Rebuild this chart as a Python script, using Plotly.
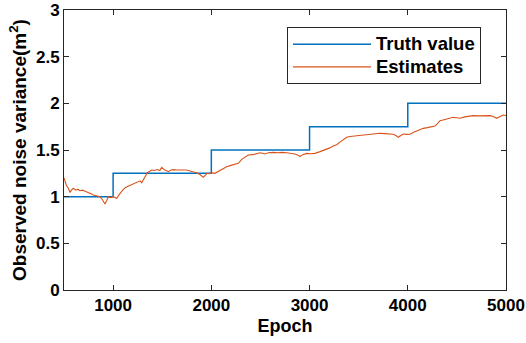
import plotly.graph_objects as go

# Truth value (step function)
truth_epoch = [500, 1000, 2000, 3000, 4000, 5000]
truth_value = [1.0, 1.25, 1.5, 1.75, 2.0, 2.0]

# Estimates
est_epoch = [500, 510, 525, 544, 561, 575, 595, 620, 640, 663, 690, 710, 731, 760, 780, 798, 830, 866, 890, 917,
             935, 951, 975, 1002, 1020, 1036, 1060, 1080, 1104, 1130, 1150, 1172, 1200, 1230, 1257, 1275, 1291,
             1310, 1330, 1348, 1370, 1393, 1420, 1450, 1475, 1495, 1520, 1545, 1562, 1590, 1613, 1650, 1700,
             1749, 1800, 1851, 1880, 1918, 1940, 1953, 1975, 2003, 2037, 2070, 2100, 2130, 2156, 2200, 2240,
             2275, 2309, 2340, 2377, 2420, 2460, 2496, 2520, 2547, 2580, 2631, 2680, 2720, 2767, 2810, 2852,
             2880, 2903, 2930, 2971, 3010, 3055, 3100, 3157, 3200, 3242, 3280, 3310, 3340, 3378, 3412, 3460,
             3514, 3570, 3620, 3680, 3717, 3760, 3800, 3852, 3880, 3903, 3930, 3954, 3990, 4022, 4060, 4100,
             4158, 4200, 4240, 4277, 4300, 4328, 4370, 4420, 4463, 4500, 4531, 4580, 4620, 4667, 4720, 4780,
             4837, 4870, 4905, 4940, 4973, 5000]
est_value = [1.20, 1.17, 1.12, 1.09, 1.045, 1.07, 1.09, 1.07, 1.08, 1.064, 1.07, 1.06, 1.053, 1.04, 1.03, 1.018,
             1.01, 1.0, 0.97, 0.921, 0.96, 1.0, 0.99, 1.0, 0.99, 0.98, 1.02, 1.05, 1.079, 1.10, 1.11, 1.125,
             1.14, 1.15, 1.16, 1.17, 1.15, 1.19, 1.23, 1.257, 1.27, 1.286, 1.28, 1.29, 1.28, 1.314, 1.29, 1.28,
             1.268, 1.285, 1.29, 1.285, 1.285, 1.286, 1.27, 1.257, 1.24, 1.207, 1.23, 1.25, 1.245, 1.257, 1.25,
             1.27, 1.29, 1.30, 1.32, 1.335, 1.345, 1.357, 1.40, 1.42, 1.446, 1.45, 1.46, 1.47, 1.465, 1.457,
             1.47, 1.475, 1.47, 1.475, 1.47, 1.465, 1.457, 1.445, 1.43, 1.45, 1.464, 1.46, 1.464, 1.48, 1.50,
             1.52, 1.543, 1.56, 1.585, 1.61, 1.636, 1.645, 1.65, 1.66, 1.665, 1.672, 1.675, 1.679, 1.675,
             1.672, 1.668, 1.655, 1.636, 1.655, 1.671, 1.667, 1.668, 1.69, 1.71, 1.732, 1.74, 1.75, 1.757,
             1.78, 1.814, 1.825, 1.84, 1.85, 1.845, 1.84, 1.855, 1.862, 1.868, 1.866, 1.87, 1.868, 1.86, 1.84,
             1.86, 1.875, 1.87]

x_ticks = [1000, 2000, 3000, 4000, 5000]
y_ticks = [0, 0.5, 1, 1.5, 2, 2.5, 3]
y_tick_labels = ["0", "0.5", "1", "1.5", "2", "2.5", "3"]
series_names = ["Truth value", "Estimates"]

FONT = "Liberation Sans, Arial, sans-serif"


def legend_label(s):
    return f'<span style="font-size:18.5px"><b>{s}</b></span>'


fig = go.Figure()
fig.add_trace(go.Scatter(x=truth_epoch, y=truth_value, mode="lines", line_shape="hv",
                         line=dict(color="#0072BD", width=1.5), name=legend_label(series_names[0])))
fig.add_trace(go.Scatter(x=est_epoch, y=est_value, mode="lines",
                         line=dict(color="#D95319", width=1.1), name=legend_label(series_names[1])))

axis_common = dict(showline=True, mirror="ticks", linecolor="#262626", linewidth=1,
                   ticks="inside", ticklen=5, tickcolor="#262626", showgrid=False, zeroline=False,
                   automargin=False,
                   tickfont=dict(family=FONT, size=17, color="#000000"))

fig.update_xaxes(range=[500, 5000], tickvals=x_ticks, ticktext=[f"<b>{t}</b>" for t in x_ticks],
                 title=dict(text="<b>Epoch</b>", font=dict(family=FONT, size=18, color="#000"), standoff=4),
                 **axis_common)
fig.update_yaxes(range=[0, 3], tickvals=y_ticks, ticktext=[f"<b>{t}</b>" for t in y_tick_labels],
                 title=dict(text="<b>Observed noise variance(m<sup>2</sup>)</b>",
                            font=dict(family=FONT, size=19, color="#000"), standoff=4),
                 **axis_common)

fig.update_layout(
    width=526, height=343,
    margin=dict(l=64, r=20, t=10, b=53),
    paper_bgcolor="white", plot_bgcolor="white",
    font=dict(family=FONT, color="#000"),
    legend=dict(x=0.5045, y=0.939, xanchor="left", yanchor="top",
                bordercolor="#262626", borderwidth=1, bgcolor="white",
                itemwidth=78, font=dict(family=FONT, size=15, color="#000"),
                tracegroupgap=0),
    showlegend=True,
)

fig.write_html("out.html", config={"displayModeBar": False},
               post_script="document.body.style.margin='0';document.body.style.overflow='hidden';")
